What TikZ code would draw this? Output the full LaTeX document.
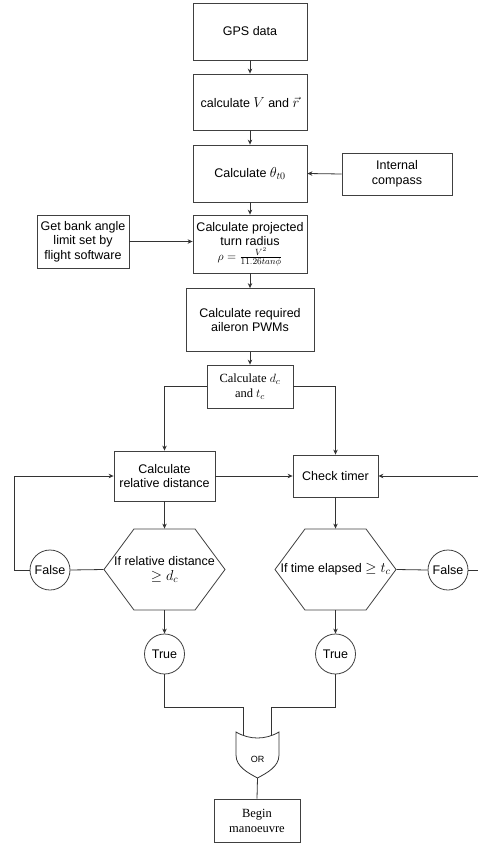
\documentclass[tikz,border=0pt]{standalone}
\usepackage{fontspec}
\setmainfont{Liberation Serif}
\setsansfont{Liberation Sans}
\usetikzlibrary{arrows.meta,shapes.symbols,calc}
\newcommand\bigmath[1]{{\fontsize{14.5}{14.5}\selectfont$#1$}}
\tikzset{box/.style={draw=black!75, line width=0.8pt, align=center, inner sep=2pt, font=\sffamily\fontsize{12.5}{14.5}\selectfont},
  serifbox/.style={box, font=\rmfamily\fontsize{12.5}{15}\selectfont},
  hexa/.style={draw=black!75, line width=0.8pt, signal, signal to=east and west, signal pointer angle=107, minimum width=121pt, minimum height=81pt, inner sep=0pt},
  blob/.style={circle, draw=black!75, line width=0.8pt, minimum size=40pt, inner sep=0pt, font=\sffamily\fontsize{12.5}{14.5}\selectfont},
  flow/.style={draw=black!80, line width=0.8pt, -{Stealth[length=5pt, width=4.5pt]}},
  wire/.style={draw=black!80, line width=0.8pt}}

\begin{document}
\begin{tikzpicture}[x=1pt, y=-1pt]
\useasboundingbox (0,0) rectangle (477,843);
% main chain
\node[box, minimum width=114pt, minimum height=57pt] (gps) at (250,31.5) {GPS data};
\node[box, minimum width=114pt, minimum height=56pt] (vr) at (250,102) {calculate \bigmath{V} and \bigmath{\vec{r}}};
\node[box, minimum width=114pt, minimum height=57pt] (theta) at (250,173.5) {Calculate \bigmath{\theta_{t0}}};
\node[box, minimum width=110pt, minimum height=42pt] (compass) at (397,174) {Internal\\compass};
\node[box, minimum width=114pt, minimum height=58pt] (proj) at (250,244) {Calculate projected\\turn radius\\$\rho=\frac{V^2}{11.26tan\phi}$};
\node[box, minimum width=92pt, minimum height=53pt] (bank) at (83,241.5) {Get bank angle\\limit set by\\flight software};
\node[box, minimum width=128pt, minimum height=63pt] (pwm) at (250,320) {Calculate required\\aileron PWMs};
\node[serifbox, minimum width=86pt, minimum height=43pt] (dctc) at (250,386.5) {Calculate $d_c$\\and $t_c$};
% two branches
\node[box, minimum width=101pt, minimum height=50pt] (reldist) at (164.5,476) {Calculate\\relative distance};
\node[box, minimum width=85pt, minimum height=42pt] (timer) at (335.5,476) {Check timer};
\node[hexa, label={[align=center, font=\sffamily\fontsize{12.5}{14.5}\selectfont]center:If relative distance\\\bigmath{\geq d_c}}] (hexd) at (164.5,569.5) {};
\node[hexa, label={[font=\sffamily\fontsize{12.5}{14.5}\selectfont]center:If time elapsed \bigmath{\geq t_c}}] (hext) at (335.5,569.5) {};
\node[blob] (falsed) at (50,570) {False};
\node[blob] (falset) at (448,570) {False};
\node[blob] (trued) at (164.5,654) {True};
\node[blob] (truet) at (335.5,654) {True};
% or gate
\node[font=\sffamily\fontsize{9}{10}\selectfont] (orgate) at (257.5,759) {OR};
\draw[wire] ($(orgate)+(-21.5,-27)$) .. controls ($(orgate)+(-8,-19)$) and ($(orgate)+(8,-19)$) .. ($(orgate)+(21.5,-27)$)
  -- ($(orgate)+(21.5,-4)$) .. controls ($(orgate)+(21.5,8)$) and ($(orgate)+(9,14)$) .. ($(orgate)+(0,19)$)
  .. controls ($(orgate)+(-9,14)$) and ($(orgate)+(-21.5,8)$) .. ($(orgate)+(-21.5,-4)$) -- cycle;
\coordinate (orinl) at ($(orgate)+(-14.5,-23.5)$);
\coordinate (orinr) at ($(orgate)+(14,-23.5)$);
\coordinate (orout) at ($(orgate)+(0,19)$);
\node[serifbox, minimum width=86pt, minimum height=43pt] (begin) at (257,820.5) {Begin\\manoeuvre};
% connectors
\foreach \a/\b in {gps/vr, vr/theta, theta/proj, proj/pwm, pwm/dctc, reldist/hexd, timer/hext, hexd/trued, hext/truet}
  \draw[flow] (\a.south) -- (\b.north);
\draw[flow] (compass.west) -- (theta.east);
\draw[flow] (bank.east) -- (bank.east -| proj.west);
\draw[flow] (dctc.west) -| (reldist.north);
\draw[flow] (dctc.east) -| (timer.north);
\draw[flow] (reldist.east) -- (timer.west);
\draw[wire] (hexd.west) -- (falsed.east);
\draw[wire] (hext.east) -- (falset.west);
\draw[flow] (falsed.west) -- ++(-15,0) |- (reldist.west);
\draw[flow] (falset.east) -- ++(10.5,0) |- (timer.east);
\draw[wire] (trued.south) -- ++(0,33) -| (orinl);
\draw[wire] (truet.south) -- ++(0,33) -| (orinr);
\draw[wire] (orout) -- (begin.north);
\end{tikzpicture}
\end{document}
